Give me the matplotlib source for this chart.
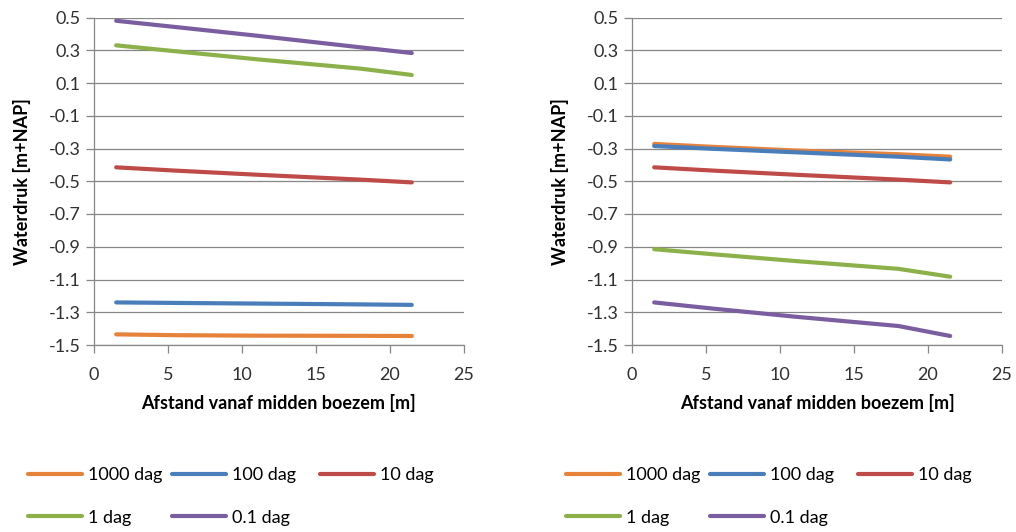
import matplotlib
matplotlib.use("Agg")
import matplotlib.pyplot as plt

plt.rcParams['font.family'] = ['Lato', 'DejaVu Sans']
plt.rcParams['axes.unicode_minus'] = False

# Distance from the middle of the reservoir [m]
afstand = [1.5, 5.5, 11, 18, 21.5]

series_labels = ["1000 dag", "100 dag", "10 dag", "1 dag", "0.1 dag"]
series_colors = ["#E6823A", "#4A7EBB", "#BE4B48", "#8CB14B", "#7B5EA0"]

# Water pressure [m+NAP], left panel
links_1000 = [-1.435, -1.440, -1.443, -1.444, -1.445]
links_100 = [-1.240, -1.243, -1.247, -1.252, -1.255]
links_10 = [-0.415, -0.435, -0.460, -0.490, -0.507]
links_1 = [0.330, 0.294, 0.245, 0.188, 0.149]
links_01 = [0.480, 0.442, 0.389, 0.318, 0.283]

# Water pressure [m+NAP], right panel
rechts_1000 = [-0.272, -0.290, -0.312, -0.335, -0.350]
rechts_100 = [-0.285, -0.302, -0.323, -0.350, -0.367]
rechts_10 = [-0.415, -0.435, -0.460, -0.490, -0.507]
rechts_1 = [-0.915, -0.946, -0.987, -1.035, -1.083]
rechts_01 = [-1.240, -1.278, -1.327, -1.384, -1.445]

y_ticks = [0.5, 0.3, 0.1, -0.1, -0.3, -0.5, -0.7, -0.9, -1.1, -1.3, -1.5]
x_ticks = [0, 5, 10, 15, 20, 25]

fig = plt.figure(figsize=(10.16, 5.32), dpi=100)

grid_col = "#878787"
text_col = "#303030"

legend_kw = dict(loc="upper left", frameon=False, fontsize=13,
                 handlelength=3.0, handletextpad=0.35, columnspacing=0.5,
                 labelspacing=1.48, borderpad=0, borderaxespad=0)


def panel(rect, data, legend_x):
    ax = fig.add_axes(rect)
    lines = []
    for vals, lab, col in zip(data, series_labels, series_colors):
        ln, = ax.plot(afstand, vals, color=col, lw=3.0, solid_capstyle="round",
                      label=lab)
        lines.append(ln)
    ax.set_xlim(0, 25)
    ax.set_ylim(-1.5, 0.5)
    ax.set_xticks(x_ticks)
    ax.set_yticks(y_ticks)
    ax.set_yticklabels([f"{v:.1f}" for v in y_ticks])
    ax.grid(axis="y", color=grid_col, lw=0.9)
    ax.set_axisbelow(True)
    for s in ("top", "right"):
        ax.spines[s].set_visible(False)
    for s in ("left", "bottom"):
        ax.spines[s].set_color(grid_col)
        ax.spines[s].set_linewidth(0.9)
    ax.tick_params(axis="both", colors=grid_col, length=5.5, width=0.9,
                   labelsize=13, labelcolor=text_col)
    ax.tick_params(axis="x", pad=10)
    ax.tick_params(axis="y", pad=4)
    ax.set_xlabel("Afstand vanaf midden boezem [m]", fontsize=13,
                  fontweight="bold", color="black", labelpad=8.5)
    ax.set_ylabel("Waterdruk [m+NAP]", fontsize=13, fontweight="bold",
                  color="black", labelpad=13)

    # Legend laid out row by row: first two columns, then the third column
    top = 1 - 467 / 532
    order = [0, 3, 1, 4]
    fig.legend([lines[i] for i in order], [series_labels[i] for i in order],
               ncol=2, bbox_to_anchor=(legend_x / 1016, top), **legend_kw)
    fig.legend([lines[2]], [series_labels[2]], ncol=1,
               bbox_to_anchor=((legend_x + 292) / 1016, top), **legend_kw)
    return ax


panel([94 / 1016, 1 - 345 / 532, 369.5 / 1016, 327.5 / 532],
      [links_1000, links_100, links_10, links_1, links_01], 28)
panel([632 / 1016, 1 - 345 / 532, 370 / 1016, 327.5 / 532],
      [rechts_1000, rechts_100, rechts_10, rechts_1, rechts_01], 566)

fig.savefig("out.png", dpi=100)
